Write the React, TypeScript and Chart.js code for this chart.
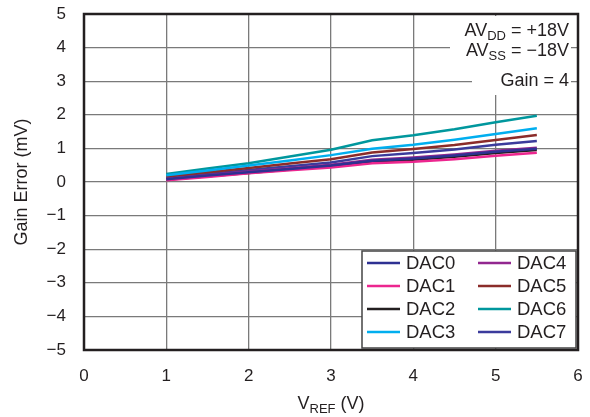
import React, { useEffect, useRef } from "react";
import { Chart, registerables } from "chart.js";

Chart.register(...registerables);

const vref = [1, 1.5, 2, 2.5, 3, 3.5, 4, 4.5, 5, 5.5];
const dac0 = [0.08, 0.19, 0.29, 0.39, 0.49, 0.63, 0.7, 0.79, 0.9, 0.99];
const dac1 = [0.05, 0.15, 0.26, 0.35, 0.43, 0.56, 0.6, 0.68, 0.78, 0.87];
const dac2 = [0.07, 0.17, 0.27, 0.37, 0.47, 0.6, 0.66, 0.75, 0.86, 0.95];
const dac3 = [0.2, 0.34, 0.49, 0.64, 0.8, 0.99, 1.11, 1.26, 1.43, 1.6];
const dac4 = [0.09, 0.2, 0.31, 0.41, 0.51, 0.66, 0.73, 0.82, 0.93, 1.02];
const dac5 = [0.16, 0.29, 0.42, 0.55, 0.68, 0.88, 0.98, 1.1, 1.25, 1.4];
const dac6 = [0.24, 0.4, 0.56, 0.76, 0.96, 1.24, 1.39, 1.57, 1.78, 1.97];
const dac7 = [0.12, 0.24, 0.36, 0.47, 0.58, 0.77, 0.86, 0.97, 1.11, 1.22];

const seriesNames = ["DAC0", "DAC1", "DAC2", "DAC3", "DAC4", "DAC5", "DAC6", "DAC7"];
const seriesValues = [dac0, dac1, dac2, dac3, dac4, dac5, dac6, dac7];
const seriesColors = ["#2e3192", "#ec268f", "#231f20", "#00aeef", "#92278f", "#8b2c2a", "#00979d", "#3b3b9c"];

const xTicks = [0, 1, 2, 3, 4, 5, 6];
const yTicks = [-5, -4, -3, -2, -1, 0, 1, 2, 3, 4, 5];

const FONT = "'Liberation Sans', Arial, Helvetica, sans-serif";

type Part = { t: string; sub?: boolean };

function partsWidth(ctx: CanvasRenderingContext2D, parts: Part[], size: number, subSize: number) {
  let w = 0;
  for (const p of parts) {
    ctx.font = `${p.sub ? subSize : size}px ${FONT}`;
    w += ctx.measureText(p.t).width;
  }
  return w;
}

function drawParts(ctx: CanvasRenderingContext2D, parts: Part[], x: number, baseline: number, size: number, subSize: number, subDrop: number) {
  let cx = x;
  ctx.textAlign = "left";
  ctx.textBaseline = "alphabetic";
  for (const p of parts) {
    ctx.font = `${p.sub ? subSize : size}px ${FONT}`;
    ctx.fillText(p.t, cx, baseline + (p.sub ? subDrop : 0));
    cx += ctx.measureText(p.t).width;
  }
}

const extrasPlugin = {
  id: "extras",
  afterDatasetsDraw(chart: any) {
    const ctx: CanvasRenderingContext2D = chart.ctx;
    const { left, right, top, bottom } = chart.chartArea;
    ctx.save();

    // annotation block (white backing behind each line)
    ctx.fillStyle = "#ffffff";
    ctx.fillRect(right - 128, top + 2, 121, 53);
    ctx.fillRect(right - 106, top + 55, 99, 26);
    ctx.fillStyle = "#231f20";
    const size = 18, sub = 13;
    const lines: Part[][] = [
      [{ t: "AV" }, { t: "DD", sub: true }, { t: " = +18V" }],
      [{ t: "AV" }, { t: "SS", sub: true }, { t: " = \u221218V" }],
      [{ t: "Gain = 4" }],
    ];
    const baselines = [top + 22, top + 42, top + 72];
    lines.forEach((ln, i) => {
      const w = partsWidth(ctx, ln, size, sub);
      drawParts(ctx, ln, right - 9 - w, baselines[i], size, sub, 4);
    });

    // legend box
    const bx = right - 216, by = bottom - 99, bw = 214, bh = 97;
    ctx.fillStyle = "#ffffff";
    ctx.fillRect(bx, by, bw, bh);
    ctx.strokeStyle = "#444";
    ctx.lineWidth = 1.5;
    ctx.strokeRect(bx, by, bw, bh);
    ctx.font = `18.5px ${FONT}`;
    ctx.textBaseline = "middle";
    ctx.textAlign = "left";
    for (let i = 0; i < seriesNames.length; i++) {
      const col = Math.floor(i / 4);
      const row = i % 4;
      const lx = bx + 5 + col * 111;
      const ly = by + 12 + row * 23;
      ctx.strokeStyle = seriesColors[i];
      ctx.lineWidth = 2.5;
      ctx.beginPath();
      ctx.moveTo(lx, ly);
      ctx.lineTo(lx + 33, ly);
      ctx.stroke();
      ctx.fillStyle = "#231f20";
      ctx.fillText(seriesNames[i], lx + 39, ly + 1);
    }

    // x axis title
    const xt: Part[] = [{ t: "V" }, { t: "REF", sub: true }, { t: " (V)" }];
    const w = partsWidth(ctx, xt, 18, 13);
    ctx.fillStyle = "#231f20";
    drawParts(ctx, xt, (left + right) / 2 - w / 2, 409, 18, 13, 4);

    // plot border
    ctx.strokeStyle = "#231f20";
    ctx.lineWidth = 2.5;
    ctx.strokeRect(left, top, right - left, bottom - top);
    ctx.restore();
  },
};

export default function App() {
  const ref = useRef<HTMLCanvasElement>(null);
  useEffect(() => {
    if (!ref.current) return;
    const datasets = seriesNames.map((name, i) => ({
      label: name,
      data: vref.map((x, j) => ({ x, y: seriesValues[i][j] })),
      borderColor: seriesColors[i],
      backgroundColor: seriesColors[i],
      borderWidth: 2.5,
      pointRadius: 0,
      tension: 0,
    }));
    const chart = new Chart(ref.current, {
      type: "line",
      data: { datasets },
      options: {
        animation: false,
        responsive: false,
        maintainAspectRatio: false,
        layout: { padding: 0 },
        plugins: { legend: { display: false }, tooltip: { enabled: false } },
        scales: {
          x: {
            type: "linear",
            min: 0,
            max: 6,
            afterBuildTicks: (s: any) => { s.ticks = xTicks.map((v) => ({ value: v })); },
            afterFit: (s: any) => { s.height = 67; s.paddingLeft = 0; s.paddingRight = 12; },
            grid: { color: "#7a7a7a", lineWidth: 1.3, drawTicks: false },
            border: { display: false },
            ticks: { color: "#231f20", font: { size: 17, family: FONT }, padding: 16, maxRotation: 0 },
          },
          y: {
            type: "linear",
            min: -5,
            max: 5,
            afterBuildTicks: (s: any) => { s.ticks = yTicks.map((v) => ({ value: v })); },
            afterFit: (s: any) => { s.width = 84; s.paddingTop = 14; s.paddingBottom = 0; },
            grid: { color: "#7a7a7a", lineWidth: 1.3, drawTicks: false },
            border: { display: false },
            ticks: {
              color: "#231f20",
              font: { size: 17, family: FONT },
              padding: 18,
              callback: (v: any) => (v < 0 ? "\u2212" + Math.abs(v) : String(v)),
            },
            title: {
              display: true,
              text: "Gain Error (mV)",
              color: "#231f20",
              font: { size: 18, family: FONT },
              padding: { top: 11, bottom: 0 },
            },
          },
        },
      },
      plugins: [extrasPlugin],
    } as any);
    return () => chart.destroy();
  }, []);
  return (
    <div style={{ position: "fixed", left: 0, top: 0, width: 590, height: 417, background: "#fff" }}>
      <canvas ref={ref} width={590} height={417} style={{ width: 590, height: 417, display: "block" }} />
    </div>
  );
}
